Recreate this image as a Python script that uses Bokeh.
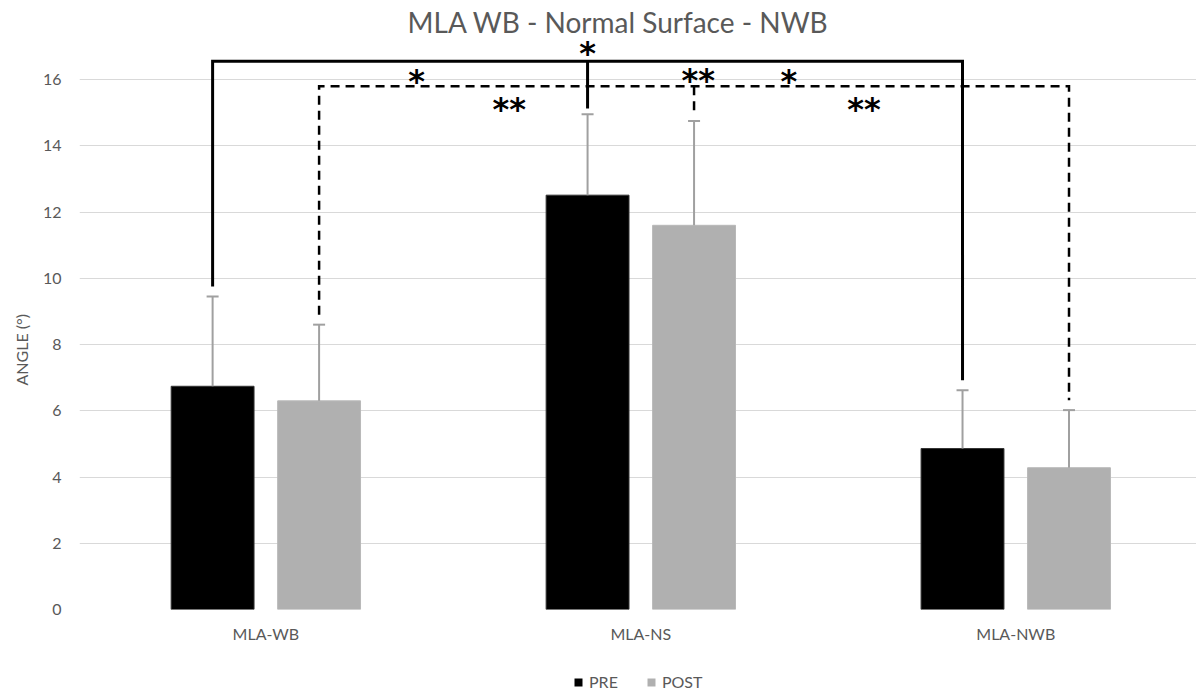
from bokeh.plotting import figure
from bokeh.layouts import column
from bokeh.models import (Range1d, FixedTicker, ColumnDataSource, Whisker, TeeHead,
                          Legend, LegendItem, Title)
from bokeh.core.properties import value
from bokeh.embed import file_html
from bokeh.resources import INLINE

# ---------------- data ----------------
chart_title = "MLA WB - Normal Surface - NWB"
categories = ["MLA-WB", "MLA-NS", "MLA-NWB"]
series_names = ["PRE", "POST"]
pre_mean = [6.74, 12.51, 4.86]
pre_sd = [2.71, 2.44, 1.76]
post_mean = [6.30, 11.60, 4.28]
post_sd = [2.30, 3.15, 1.74]
y_ticks = [0, 2, 4, 6, 8, 10, 12, 14, 16]
y_label = "ANGLE  (°)"

# significance annotations (text, x in category units, y in angle units)
sig_text = ["*", "*", "**", "*", "**", "**"]
sig_x = [0.858, 0.402, 1.153, 1.395, 0.649, 1.595]
sig_y = [16.80, 15.96, 15.98, 15.96, 15.12, 15.12]
solid_bracket_y = 16.55
dashed_bracket_y = 15.8
leg_gap = 0.3

# ---------------- styles ----------------
FONT = "Lato"
GREY_TXT = "#595959"
PRE_COLOR = "#000000"
POST_COLOR = "#b0b0b0"
ERR_COLOR = "#a0a0a0"
OFFSET = 0.142
BAR_W = 0.221

n = len(categories)
x_pre = [i - OFFSET for i in range(n)]
x_post = [i + OFFSET for i in range(n)]

p = figure(width=1196, height=653, output_backend="svg", toolbar_location=None,
           x_range=Range1d(-0.497, 2.482), y_range=Range1d(0, 17.24),
           min_border_left=78, min_border_right=0, min_border_top=38,
           min_border_bottom=44)

p.title.text = chart_title
p.title.align = "left"
p.title.offset = 328
p.title.text_font = FONT
p.title.text_font_size = "28px"
p.title.text_font_style = "normal"
p.title.text_color = GREY_TXT
p.title.standoff = 0

p.outline_line_color = None
p.background_fill_color = "white"
p.border_fill_color = "white"

# axes
p.xaxis.ticker = FixedTicker(ticks=list(range(n)))
p.xaxis.major_label_overrides = {i: c for i, c in enumerate(categories)}
p.yaxis.ticker = FixedTicker(ticks=y_ticks)
for ax in (p.xaxis[0], p.yaxis[0]):
    ax.axis_line_color = None
    ax.major_tick_line_color = None
    ax.minor_tick_line_color = None
    ax.major_tick_out = 0
    ax.major_tick_in = 0
    ax.major_label_text_font = FONT
    ax.major_label_text_font_size = "16px"
    ax.major_label_text_color = GREY_TXT
p.xaxis.major_label_standoff = 14
p.yaxis.major_label_standoff = 18

# y-axis title as a side-panel title (so it can sit lower, like the reference)
y_title = Title(text=y_label, align="left", offset=224, standoff=18,
                vertical_align="bottom", text_font=FONT, text_font_size="16px",
                text_font_style="normal", text_color=GREY_TXT)
p.add_layout(y_title, "left")

p.xgrid.visible = False
p.ygrid.grid_line_color = "#d9d9d9"
p.ygrid.grid_line_width = 1

# bars
r_pre = p.vbar(x=x_pre, top=pre_mean, width=BAR_W, bottom=0,
               fill_color=PRE_COLOR, line_color="#333333", line_width=1)
r_post = p.vbar(x=x_post, top=post_mean, width=BAR_W, bottom=0,
                fill_color=POST_COLOR, line_color="#b8b8b8", line_width=1)

# error bars (upper half only)
for xs, m, s in ((x_pre, pre_mean, pre_sd), (x_post, post_mean, post_sd)):
    src = ColumnDataSource(dict(x=xs, lower=m, upper=[a + b for a, b in zip(m, s)]))
    w = Whisker(base="x", lower="lower", upper="upper", source=src,
                line_color=ERR_COLOR, line_width=2, level="glyph",
                upper_head=TeeHead(size=12, line_color=ERR_COLOR, line_width=2),
                lower_head=None)
    p.add_layout(w)

pre_top = [a + b for a, b in zip(pre_mean, pre_sd)]
post_top = [a + b for a, b in zip(post_mean, post_sd)]

# solid bracket (PRE)
p.line(x=[x_pre[0], x_pre[0], x_pre[2], x_pre[2]],
       y=[pre_top[0] + leg_gap, solid_bracket_y, solid_bracket_y, pre_top[2] + leg_gap],
       line_color="black", line_width=3, line_join="miter")
p.line(x=[x_pre[1], x_pre[1]], y=[solid_bracket_y, pre_top[1] + leg_gap * 0.6],
       line_color="black", line_width=3)

# dashed bracket (POST)
p.line(x=[x_post[0], x_post[0], x_post[2], x_post[2]],
       y=[post_top[0] + leg_gap, dashed_bracket_y, dashed_bracket_y, post_top[2] + leg_gap],
       line_color="black", line_width=2.5, line_dash="9 6", line_join="miter")
p.line(x=[x_post[1], x_post[1]], y=[dashed_bracket_y, post_top[1] + leg_gap],
       line_color="black", line_width=2.5, line_dash="9 6")

# stars
p.text(x=sig_x, y=sig_y, text=sig_text, text_font=value("DejaVu Sans"),
       text_font_size="32px", text_font_style="bold", text_color="black",
       text_align="center", text_baseline="middle")

# ---------------- legend strip ----------------
lf = figure(width=1196, height=38, output_backend="svg", toolbar_location=None,
            x_range=Range1d(0, 1), y_range=Range1d(0, 1),
            min_border=0, min_border_left=0, min_border_right=0,
            min_border_top=0, min_border_bottom=0)
lf.axis.visible = False
lf.grid.visible = False
lf.outline_line_color = None
lf.background_fill_color = "white"
lf.border_fill_color = "white"
# zero-height proxies: they only carry the series colours for the legend
proxy = ColumnDataSource(dict(x=[0.5], top=[0]))
l_pre = lf.vbar(x="x", top="top", bottom=0, width=0.1, source=proxy,
                fill_color=PRE_COLOR, line_color=None)
l_post = lf.vbar(x="x", top="top", bottom=0, width=0.1, source=proxy,
                 fill_color=POST_COLOR, line_color=None)
legend = Legend(items=[LegendItem(label=series_names[0], renderers=[l_pre]),
                       LegendItem(label=series_names[1], renderers=[l_post])],
                orientation="horizontal", location=(494, 0),
                glyph_width=10, glyph_height=10, label_standoff=6, spacing=28,
                label_text_font=FONT, label_text_font_size="16px",
                label_text_color=GREY_TXT, padding=0, margin=0,
                border_line_color=None, background_fill_alpha=0)
lf.add_layout(legend)

layout = column(p, lf, spacing=0)
open("out.html", "w").write(file_html(layout, INLINE))
